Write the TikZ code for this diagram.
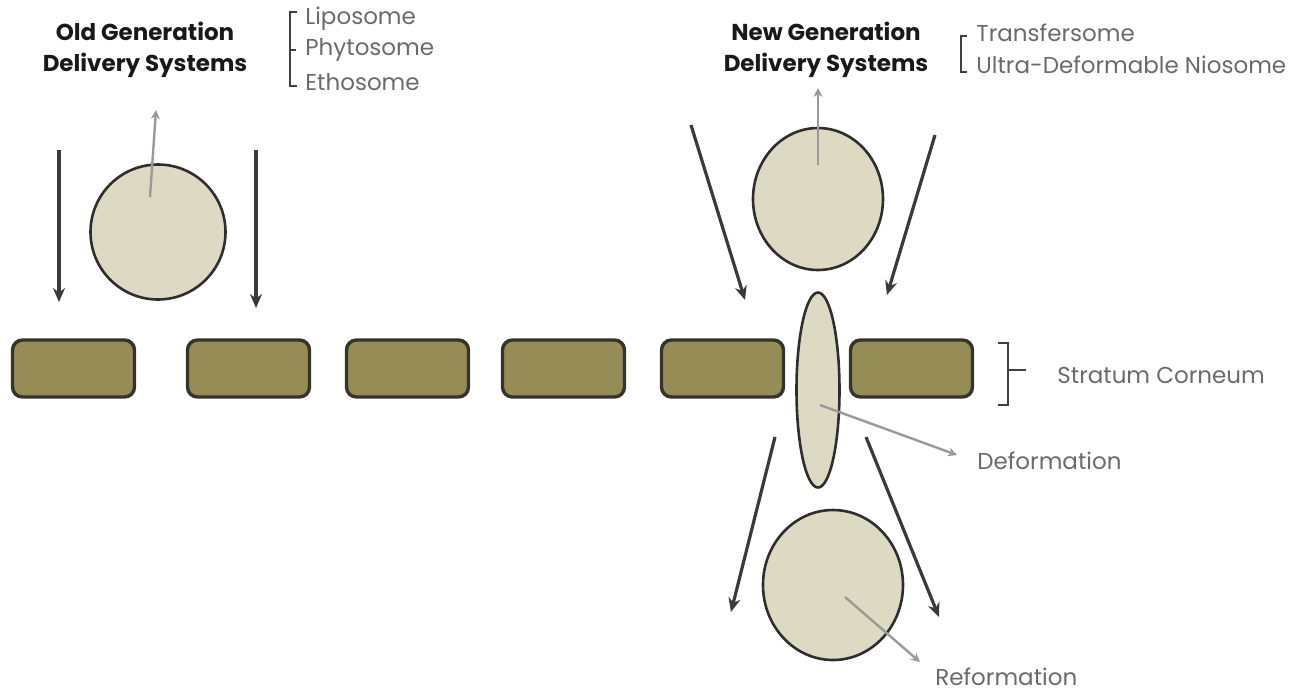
\documentclass[tikz,border=0pt]{standalone}
\usepackage{fontspec}
\setmainfont{Poppins}
\usetikzlibrary{positioning,shapes.geometric,arrows.meta}
\definecolor{brickfill}{HTML}{968C55}
\definecolor{brickline}{HTML}{35342A}
\definecolor{cellfill}{HTML}{DDD9C3}
\definecolor{cellline}{HTML}{2E2E2E}
\definecolor{darkarrow}{HTML}{3A3A3A}
\definecolor{greyarrow}{HTML}{9A9A9A}
\definecolor{labelgrey}{HTML}{6A6A6A}

\begin{document}
\begin{tikzpicture}[x=0.5pt,y=-0.5pt,
  brick/.style={rectangle, rounded corners=5pt, fill=brickfill, draw=brickline, line width=1.7pt, minimum width=61pt, minimum height=28.5pt},
  cell/.style={ellipse, fill=cellfill, draw=cellline, line width=1.3pt, inner sep=0pt},
  push/.style={-{Stealth[length=7pt,width=6pt]}, draw=darkarrow, line width=1.6pt},
  pointer/.style={-{Stealth[length=4.5pt,width=4.5pt]}, draw=greyarrow, line width=1.2pt},
  title/.style={font=\bfseries\fontsize{11.5}{15.5}\selectfont, text=black!90, align=center},
  item/.style={font=\fontsize{11.5}{13}\selectfont, text=labelgrey, anchor=west, inner sep=0pt},
  brace/.style={draw=black!75, line width=1.1pt}]
\useasboundingbox (0,0) rectangle (1298,693);

% stratum corneum
\node[brick] (b1) at (73.5,368.5) {};
\node[brick] (b2) at (248.5,368.5) {};
\node[brick] (b3) at (407.5,368.5) {};
\node[brick] (b4) at (563.5,368.5) {};
\node[brick] (b5) at (722.5,368.5) {};
\node[brick] (b6) at (911.5,368.5) {};

% old generation
\node[title] (oldt) at (145,50) {Old Generation\\Delivery Systems};
\node[item] (lipo) at (305,19) {Liposome};
\node[item] (phyto) at (305,50) {Phytosome};
\node[item] (etho) at (305,82) {Ethosome};
\draw[brace] (297,12) -- (290,12) -- (290,86) -- (297,86) (290,50) -- (296,50);
\node[cell, minimum width=67.5pt, minimum height=67.5pt] (oldc) at (158,232) {};
\coordinate (oldin) at (150,197);
\coordinate (oldout) at (156,110);
\draw[pointer] (oldin) -- (oldout);
\coordinate (l1) at (59,150);
\coordinate (l1e) at (59,302);
\coordinate (l2) at (256,150);
\coordinate (l2e) at (256,308);
\draw[push] (l1) -- (l1e);
\draw[push] (l2) -- (l2e);

% new generation
\node[title] (newt) at (826,50) {New Generation\\Delivery Systems};
\node[item] (trans) at (976,33) {Transfersome};
\node[item] (niosome) at (976,65) {Ultra-Deformable Niosome};
\draw[brace] (967,36) -- (961,36) -- (961,72) -- (967,72);
\node[cell, minimum width=65pt, minimum height=71pt] (newc) at (818,199) {};
\coordinate (newin) at (818,165);
\coordinate (newout) at (818,88);
\draw[pointer] (newin) -- (newout);
\coordinate (r1) at (691,125);
\coordinate (r1e) at (745,300);
\coordinate (r2) at (935,135);
\coordinate (r2e) at (887,295);
\draw[push] (r1) -- (r1e);
\draw[push] (r2) -- (r2e);

% deformation
\node[cell, minimum width=21.5pt, minimum height=97.5pt] (defc) at (818,390) {};
\coordinate (defin) at (820,405);
\coordinate (defout) at (957,455);
\draw[pointer] (defin) -- (defout);
\node[item] (deflab) at (977,461) {Deformation};

% stratum corneum label
\draw[brace] (998,343) -- (1008,343) -- (1008,405) -- (998,405) (1008,370) -- (1026,370);
\node[item] (sclab) at (1057,375) {Stratum Corneum};

% reformation
\coordinate (d1) at (775,437);
\coordinate (d1e) at (731,612);
\coordinate (d2) at (866,437);
\coordinate (d2e) at (939,617);
\draw[push] (d1) -- (d1e);
\draw[push] (d2) -- (d2e);
\node[cell, minimum width=70pt, minimum height=75pt] (refc) at (833,585) {};
\coordinate (refin) at (845,597);
\coordinate (refout) at (920,662);
\draw[pointer] (refin) -- (refout);
\node[item] (reflab) at (935,677) {Reformation};
\end{tikzpicture}
\end{document}
